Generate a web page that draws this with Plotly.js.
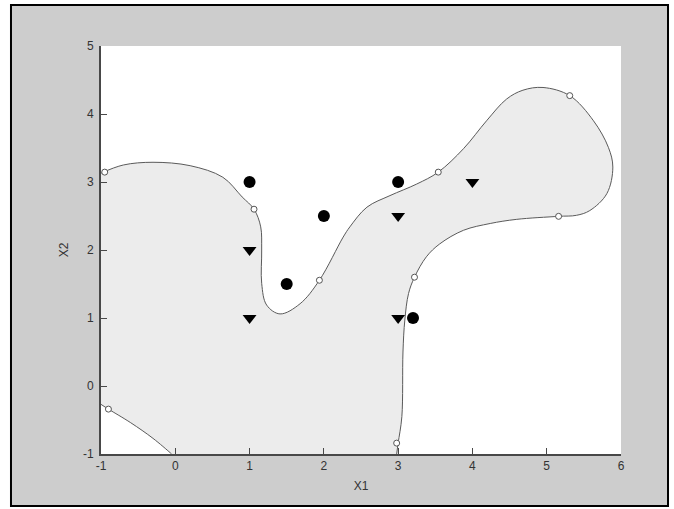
<!DOCTYPE html>
<html>
<head>
<meta charset="utf-8">
<script src="https://cdn.plot.ly/plotly-3.0.1.min.js"></script>
<style>
  html, body { margin: 0; padding: 0; background: #ffffff; }
  #chart { width: 674px; height: 509px; }
</style>
</head>
<body>
<div id="chart"></div>
<script>
// Decision boundary (upper curve), ordered from left edge to bottom edge
const boundaryX = [-1, -0.7, -0.3, 0.2, 0.64, 0.9, 1.06, 1.15, 1.163, 1.163, 1.23, 1.41, 1.68, 1.94, 2.26, 2.35, 2.58, 2.89, 3.25, 3.54, 3.88, 4.19, 4.46, 4.68, 4.95, 5.31, 5.63, 5.83, 5.89, 5.81, 5.58, 5.40, 5.16, 4.59, 4.24, 3.88, 3.56, 3.38, 3.22, 3.14, 3.09, 3.065, 3.05, 3.0, 2.98];
const boundaryY = [3.13, 3.25, 3.29, 3.24, 3.07, 2.78, 2.6, 2.34, 2.0, 1.51, 1.19, 1.06, 1.21, 1.555, 2.19, 2.34, 2.63, 2.80, 2.97, 3.145, 3.49, 3.90, 4.22, 4.35, 4.39, 4.27, 3.90, 3.51, 3.22, 2.83, 2.58, 2.51, 2.495, 2.45, 2.39, 2.29, 2.09, 1.90, 1.60, 1.36, 0.97, 0.5, -0.45, -0.84, -1];
// Decision boundary (bottom-left corner curve)
const cornerX = [-1, -0.9, -0.6, -0.3, -0.07, -0.05];
const cornerY = [-0.27, -0.34, -0.54, -0.77, -0.98, -1];
// Support vectors on the boundary
const svX = [-0.95, 1.06, 1.94, 3.54, 5.31, 5.16, 3.22, 2.98, -0.90];
const svY = [3.145, 2.6, 1.555, 3.145, 4.27, 2.495, 1.60, -0.84, -0.34];
// Class 1 (filled circles)
const circX = [1, 3, 2, 1.5, 3.2];
const circY = [3, 3, 2.5, 1.5, 1];
// Class 2 (triangles)
const triX = [1, 1, 3, 3, 4];
const triY = [2, 1, 2.5, 1, 3];
// Axis ticks
const xTicks = [-1, 0, 1, 2, 3, 4, 5, 6];
const yTicks = [-1, 0, 1, 2, 3, 4, 5];

const fillX = boundaryX.concat(cornerX.slice().reverse());
const fillY = boundaryY.concat(cornerY.slice().reverse());

const lineColor = '#5a5a5a';
const traces = [
  { x: fillX, y: fillY, mode: 'lines', fill: 'toself', fillcolor: '#ececec',
    line: { width: 0, shape: 'spline', smoothing: 1 }, hoverinfo: 'skip', showlegend: false },
  { x: boundaryX, y: boundaryY, mode: 'lines', line: { color: lineColor, width: 1, shape: 'spline', smoothing: 1 }, showlegend: false },
  { x: cornerX, y: cornerY, mode: 'lines', line: { color: lineColor, width: 1, shape: 'spline', smoothing: 1 }, showlegend: false },
  { x: svX, y: svY, mode: 'markers', marker: { symbol: 'circle', size: 6, color: '#ffffff', line: { color: '#555555', width: 1 } }, showlegend: false },
  { x: circX, y: circY, mode: 'markers', marker: { symbol: 'circle', size: 12, color: '#000000' }, showlegend: false },
  { x: triX, y: triY, mode: 'markers', marker: { symbol: 'triangle-down', size: 12, color: '#000000' }, showlegend: false }
];

const axisFont = { family: 'Liberation Sans, Arial, sans-serif', size: 12, color: '#333333' };
const layout = {
  width: 674, height: 509,
  margin: { l: 101, r: 53, t: 46, b: 55 },
  paper_bgcolor: '#ffffff',
  plot_bgcolor: 'rgba(0,0,0,0)',
  xaxis: {
    range: [-1, 6], tickvals: xTicks, ticktext: xTicks.map(String),
    showgrid: false, zeroline: false, showline: true, linecolor: '#484848', linewidth: 2,
    ticks: 'inside', ticklen: 6, tickcolor: '#484848', tickfont: axisFont,
    title: { text: 'X1', font: axisFont, standoff: 9 }, automargin: false
  },
  yaxis: {
    range: [-1, 5], tickvals: yTicks, ticktext: yTicks.map(String),
    showgrid: false, zeroline: false, showline: true, linecolor: '#484848', linewidth: 2,
    ticks: 'inside', ticklen: 6, tickcolor: '#484848', tickfont: axisFont, ticklabelstandoff: 3,
    title: { text: 'X2', font: axisFont, standoff: 12 }, automargin: false
  },
  shapes: [
    { type: 'rect', xref: 'paper', yref: 'paper', x0: -0.1731, x1: 1.0904, y0: -0.1275, y1: 1.1005,
      fillcolor: '#cdcdcd', line: { color: '#000000', width: 2 }, layer: 'below' },
    { type: 'rect', xref: 'paper', yref: 'paper', x0: 0, x1: 1, y0: 0, y1: 1,
      fillcolor: '#ffffff', line: { width: 0 }, layer: 'below' }
  ],
  showlegend: false
};

Plotly.newPlot('chart', traces, layout, { displayModeBar: false, staticPlot: true });
</script>
</body>
</html>
